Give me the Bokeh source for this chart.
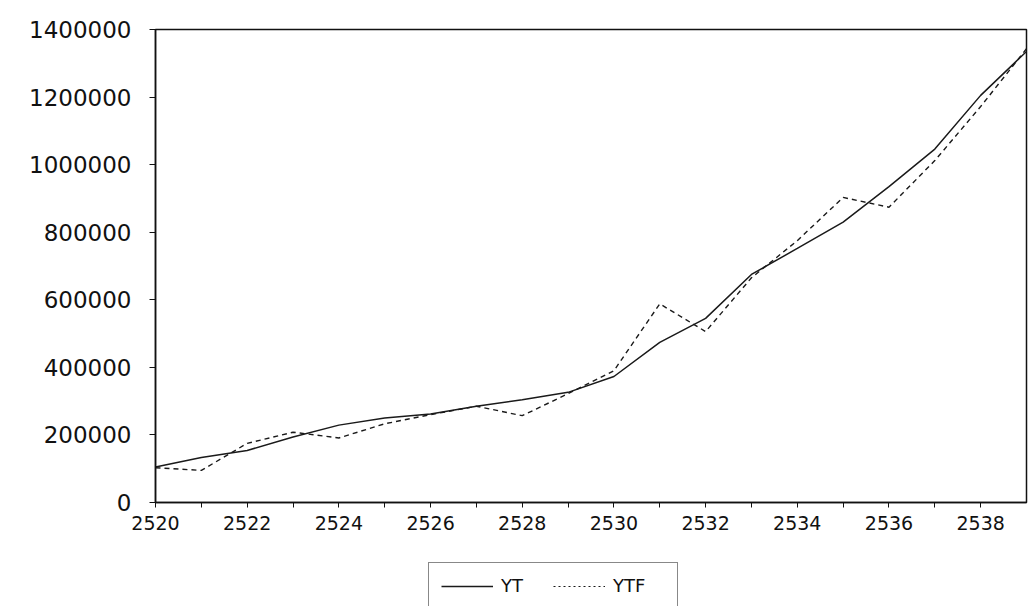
from bokeh.plotting import figure
from bokeh.layouts import column
from bokeh.models import (FixedTicker, BasicTickFormatter, Legend, LegendItem,
                          ColumnDataSource)
from bokeh.embed import file_html
from bokeh.resources import INLINE

years = list(range(2520, 2540))
yt = [105000, 133000, 154000, 194000, 229000, 250000, 262000, 285000, 304000, 326000,
      373000, 474000, 545000, 675000, 752000, 830000, 935000, 1046000, 1205000, 1335000]
ytf = [103000, 95000, 175000, 208000, 191000, 233000, 260000, 285000, 257000, 322000,
       390000, 588000, 506000, 665000, 775000, 903000, 874000, 1012000, 1172000, 1343000]
x_ticks = [2520, 2522, 2524, 2526, 2528, 2530, 2532, 2534, 2536, 2538]
x_minor = [2521, 2523, 2525, 2527, 2529, 2531, 2533, 2535, 2537]
y_ticks = [0, 200000, 400000, 600000, 800000, 1000000, 1200000, 1400000]

FONT = "DejaVu Sans"
INK = "#1a1a1a"

p = figure(width=1028, height=545, output_backend="svg", toolbar_location=None,
           x_range=(2520, 2539), y_range=(0, 1400000),
           min_border_left=155, min_border_top=29, min_border_right=2,
           min_border_bottom=43)
p.xgrid.visible = False
p.ygrid.visible = False
p.outline_line_color = "#111111"
p.outline_line_width = 1.5
p.background_fill_color = "white"
p.border_fill_color = "white"

src = ColumnDataSource(dict(x=years, yt=yt, ytf=ytf))
p.line("x", "yt", source=src, line_color=INK, line_width=1.5)
p.line("x", "ytf", source=src, line_color=INK, line_width=1.4, line_dash="5 4")

xa = p.xaxis[0]
xa.ticker = FixedTicker(ticks=x_ticks, minor_ticks=x_minor)
xa.major_tick_in = 0
xa.major_tick_out = 5
xa.minor_tick_in = 0
xa.minor_tick_out = 5
xa.axis_line_color = "#111111"
xa.axis_line_width = 1.5
xa.major_tick_line_color = "#111111"
xa.minor_tick_line_color = "#111111"
xa.major_label_text_font = FONT
xa.major_label_text_font_size = "19px"
xa.major_label_text_color = "#111111"
xa.major_label_standoff = 8

ya = p.yaxis[0]
ya.ticker = FixedTicker(ticks=y_ticks)
ya.formatter = BasicTickFormatter(use_scientific=False)
ya.major_tick_in = 0
ya.major_tick_out = 6
ya.minor_tick_line_color = None
ya.axis_line_color = "#111111"
ya.axis_line_width = 1.5
ya.major_tick_line_color = "#111111"
ya.major_label_text_font = FONT
ya.major_label_text_font_size = "23px"
ya.major_label_text_color = "#111111"
ya.major_label_standoff = 18

# separate strip holding only the legend (its frame aligns with the chart frame)
q = figure(width=1028, height=61, output_backend="svg", toolbar_location=None,
           x_range=(0, 1), y_range=(0, 1), min_border=0)
q.axis.visible = False
q.grid.visible = False
q.outline_line_color = None
q.background_fill_color = "white"
q.border_fill_color = "white"
# single-point lines draw no segment; they only give the legend its samples
l1 = q.line(years[:1], yt[:1], line_color=INK, line_width=1.4)
l2 = q.line(years[:1], ytf[:1], line_color=INK, line_width=1.2, line_dash="2 3")

legend = Legend(items=[LegendItem(label="YT", renderers=[l1]),
                       LegendItem(label="YTF", renderers=[l2])],
                orientation="horizontal", location=(273, -3),
                label_text_font=FONT, label_text_font_size="18px",
                label_text_color="#111111",
                glyph_width=52, label_standoff=8, spacing=0, label_width=52,
                padding=12, margin=0,
                border_line_color="#111111", border_line_width=1.2,
                background_fill_alpha=0)
q.add_layout(legend, "center")

open("out.html", "w").write(file_html(column(p, q), INLINE))
